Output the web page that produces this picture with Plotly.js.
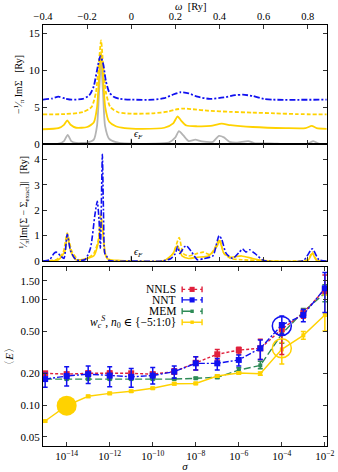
<!DOCTYPE html>
<html>
<head>
<meta charset="utf-8">
<script src="https://cdn.plot.ly/plotly-3.0.1.min.js"></script>
<style>
  html, body { margin: 0; padding: 0; background: #fff; }
  #g0 { width: 338px; height: 472px; }
</style>
</head>
<body>
<div id="g0"></div>
<script>
// panel 1: -1/pi Im Sigma (curves shifted by 0, 2, 4, 6)
const wExact = [-0.4, -0.33, -0.305, -0.288, -0.272, -0.25, -0.2, -0.17, -0.155, -0.146, -0.137, -0.128, -0.119, -0.1, -0.07, -0.03, 0.1, 0.17, 0.2, 0.216, 0.235, 0.26, 0.29, 0.32, 0.37, 0.397, 0.42, 0.445, 0.48, 0.53, 0.56, 0.63, 0.7, 0.8, 0.825, 0.85, 0.885];
const sExact = [0.02, 0.05, 0.4, 1.25, 0.4, 0.15, 0.2, 0.6, 2.5, 7, 11, 7, 2.5, 0.7, 0.25, 0.08, 0.05, 0.2, 0.9, 1.75, 1.2, 0.4, 0.6, 0.35, 0.3, 1.1, 0.9, 0.3, 0.2, 0.4, 0.1, 0.1, 0.02, 0.05, 0.4, 0.05, 0.0];

const wSolid = [-0.4, -0.33, -0.305, -0.29, -0.275, -0.25, -0.2, -0.17, -0.155, -0.146, -0.137, -0.128, -0.118, -0.1, -0.07, -0.03, 0.05, 0.15, 0.19, 0.21, 0.225, 0.25, 0.3, 0.36, 0.41, 0.45, 0.55, 0.7, 0.79, 0.818, 0.84, 0.885];
const sSolid = [2.0, 2.15, 2.6, 3.2, 2.6, 2.2, 2.3, 2.9, 5, 9, 12.5, 9, 5, 3.0, 2.4, 2.15, 2.05, 2.2, 2.8, 3.75, 3.2, 2.5, 2.4, 2.45, 2.75, 2.55, 2.3, 2.15, 2.15, 2.45, 2.15, 2.05];

const wDashed = [-0.4, -0.3, -0.22, -0.18, -0.16, -0.148, -0.137, -0.127, -0.115, -0.095, -0.06, 0.0, 0.1, 0.17, 0.2, 0.235, 0.28, 0.35, 0.45, 0.55, 0.65, 0.75, 0.885];
const sDashed = [4.0, 4.05, 4.3, 5, 7, 10.5, 14.0, 10.5, 7, 5, 4.3, 4.1, 4.15, 4.4, 4.65, 4.8, 4.7, 4.5, 4.35, 4.25, 4.15, 4.05, 4.0];

const wBlue = [-0.4, -0.36, -0.33, -0.3, -0.27, -0.22, -0.19, -0.17, -0.155, -0.14, -0.127, -0.115, -0.1, -0.08, -0.05, 0.0, 0.1, 0.15, 0.19, 0.224, 0.26, 0.3, 0.356, 0.42, 0.47, 0.506, 0.55, 0.6, 0.64, 0.885];
const sBlue = [6.0, 6.15, 6.4, 6.15, 6.0, 6.1, 6.6, 7.8, 10, 11.9, 10.8, 8.5, 7, 6.4, 6.1, 6.0, 6.0, 6.2, 6.7, 7.0, 6.85, 6.4, 6.1, 6.3, 6.6, 6.67, 6.5, 6.1, 6.0, 6.0];

// panel 2: 1/pi |Im[Sigma - Sigma_exact]|
const wErrBlue = [-0.4, -0.37, -0.35, -0.34, -0.32, -0.305, -0.29, -0.275, -0.25, -0.21, -0.185, -0.165, -0.154, -0.146, -0.14, -0.134, -0.131, -0.126, -0.12, -0.112, -0.1, 0.0, 0.14, 0.18, 0.2, 0.21, 0.22, 0.24, 0.25, 0.27, 0.3, 0.33, 0.37, 0.39, 0.398, 0.41, 0.43, 0.46, 0.49, 0.504, 0.52, 0.537, 0.56, 0.6, 0.78, 0.82, 0.85, 0.885];
const dErrBlue = [0, 0.05, 0.3, 0.35, 0.2, 0.1, 1.05, 0.4, 0.05, 0.05, 0.5, 1.8, 2.35, 1.6, 0.5, 3.0, 4.2, 2.0, 0.3, 0.2, 0.02, 0.0, 0.0, 0.1, 0.3, 0.57, 0.3, 0.55, 0.6, 0.4, 0.05, 0.1, 0.2, 0.8, 1.0, 0.85, 0.3, 0.1, 0.35, 0.47, 0.35, 0.44, 0.3, 0.02, 0.02, 0.48, 0.05, 0];

const wErrDashed = [-0.4, -0.34, -0.31, -0.29, -0.27, -0.24, -0.2, -0.17, -0.15, -0.138, -0.13, -0.12, -0.1, 0.15, 0.19, 0.217, 0.235, 0.26, 0.3, 0.326, 0.36, 0.4, 0.42, 0.45, 0.5, 0.8, 0.82, 0.84, 0.885];
const dErrDashed = [0, 0.05, 0.3, 1.1, 0.4, 0.05, 0.1, 0.3, 0.8, 1.9, 1.3, 0.3, 0.02, 0.0, 0.3, 0.92, 0.3, 0.2, 0.3, 0.35, 0.25, 0.85, 0.3, 0.1, 0.05, 0.05, 0.35, 0.05, 0];

const wErrSolid = [-0.4, -0.33, -0.3, -0.29, -0.275, -0.25, -0.17, -0.15, -0.135, -0.125, -0.11, -0.05, 0.15, 0.19, 0.2, 0.21, 0.23, 0.26, 0.3, 0.35, 0.39, 0.4, 0.42, 0.45, 0.5, 0.55, 0.6, 0.8, 0.82, 0.84, 0.885];
const dErrSolid = [0, 0.05, 0.4, 1.05, 0.4, 0.05, 0.2, 0.7, 1.6, 0.8, 0.1, 0.02, 0.02, 0.3, 0.5, 0.6, 0.2, 0.1, 0.15, 0.2, 0.6, 0.8, 0.3, 0.15, 0.2, 0.1, 0.02, 0.02, 0.3, 0.02, 0];

// panel 3: <E> vs sigma
const sigma = [1e-15, 1e-14, 1e-13, 1e-12, 1e-11, 1e-10, 1e-9, 1e-8, 1e-7, 1e-6, 1e-5, 1e-4, 1e-3, 1e-2];

const nnls = [0.1995, 0.196, 0.1995, 0.1995, 0.1995, 0.196, 0.207, 0.251, 0.302, 0.331, 0.344, 0.52, 0.74, 1.24];
const nnlsHi = [0.205, 0.2, 0.21, 0.21, 0.205, 0.2, 0.22, 0.286, 0.336, 0.351, 0.418, 0.6, 0.8, 1.7];
const nnlsLo = [0.195, 0.19, 0.19, 0.19, 0.19, 0.19, 0.196, 0.214, 0.267, 0.304, 0.27, 0.3, 0.66, 1.14];

const nnt = [0.176, 0.188, 0.196, 0.19, 0.185, 0.19, 0.207, 0.248, 0.248, 0.267, 0.344, 0.571, 0.71, 1.27];
const nntHi = [0.1995, 0.23, 0.234, 0.23, 0.222, 0.227, 0.234, 0.286, 0.276, 0.297, 0.412, 0.695, 0.8, 1.79];
const nntLo = [0.147, 0.151, 0.16, 0.149, 0.147, 0.158, 0.179, 0.214, 0.214, 0.234, 0.27, 0.47, 0.614, 0.75];

const mem = [0.176, 0.176, 0.176, 0.176, 0.176, 0.176, 0.176, 0.179, 0.183, 0.214, 0.237, 0.47, 0.764, 1.14];
const memHi = [0.179, 0.179, 0.179, 0.179, 0.179, 0.179, 0.179, 0.183, 0.19, 0.225, 0.26, 0.59, 0.82, 1.37];
const memLo = [0.173, 0.173, 0.173, 0.173, 0.173, 0.173, 0.173, 0.176, 0.178, 0.204, 0.22, 0.383, 0.71, 0.95];

const wcS = [0.0706, 0.0986, 0.121, 0.129, 0.135, 0.144, 0.159, 0.16, 0.188, 0.201, 0.198, 0.336, 0.456, 0.71];
const wcSHi = [0.072, 0.1, 0.124, 0.132, 0.138, 0.147, 0.163, 0.164, 0.193, 0.207, 0.205, 0.39, 0.497, 1.1];
const wcSLo = [0.069, 0.097, 0.118, 0.126, 0.132, 0.141, 0.155, 0.156, 0.183, 0.195, 0.191, 0.244, 0.418, 0.5];

// highlighted points (big circles)
const hiFilledX = [1e-14];
const hiFilledY = [0.0986];
const hiOpenX = [1e-4, 1e-4];
const hiOpenY = [0.56, 0.345];

const legendNames = ['NNLS', 'NNT', 'MEM', '<i>w</i><sub><i>c</i></sub><sup><i>S</i></sup>, <i>n</i><sub>0</sub> ∈ {−5:1:0}'];

const BLUE = '#1010f0';
const GOLD = '#ffd200';
const GRAY = '#b4b4b4';
const RED = '#e0203c';
const GREEN = '#2e8b57';
const FONT = 'Liberation Serif, DejaVu Serif, serif';

function curve(x, y, color, dash, xa, ya, w) {
  return { x, y, xaxis: xa, yaxis: ya, type: 'scatter', mode: 'lines',
    line: { color, dash, width: w || 1.8, shape: 'spline', smoothing: 0.6 }, hoverinfo: 'skip' };
}

function errSeries(y, hi, lo, color, dash, sym, size) {
  return {
    x: sigma, y, xaxis: 'x', yaxis: 'y3', type: 'scatter', mode: 'lines+markers',
    line: { color, dash, width: 1.4 },
    marker: { color, symbol: sym, size },
    error_y: { type: 'data', symmetric: false,
      array: hi.map((v, i) => v - y[i]), arrayminus: lo.map((v, i) => y[i] - v),
      color, thickness: 1.5, width: 2.5 },
  };
}

const data = [
  curve(wExact, sExact, GRAY, 'solid', 'x2', 'y'),
  curve(wSolid, sSolid, GOLD, 'solid', 'x2', 'y'),
  curve(wDashed, sDashed, GOLD, '4px,2px', 'x2', 'y'),
  curve(wBlue, sBlue, BLUE, '6px,2px,2px,2px', 'x2', 'y'),
  curve(wErrSolid, dErrSolid, GOLD, 'solid', 'x3', 'y2', 1.6),
  curve(wErrDashed, dErrDashed, GOLD, '4px,2px', 'x3', 'y2', 1.6),
  curve(wErrBlue, dErrBlue, BLUE, '6px,2px,2px,2px', 'x3', 'y2', 1.6),
  errSeries(mem, memHi, memLo, GREEN, '7px,3px', 'square', 4),
  errSeries(wcS, wcSHi, wcSLo, GOLD, 'solid', 'square', 4),
  errSeries(nnls, nnlsHi, nnlsLo, RED, '3px,2px', 'square', 6),
  errSeries(nnt, nntHi, nntLo, BLUE, '6px,2px,2px,2px', 'square', 6),
  { x: hiFilledX, y: hiFilledY, xaxis: 'x', yaxis: 'y3', type: 'scatter', mode: 'markers',
    marker: { color: GOLD, size: 20 } },
  { x: hiOpenX, y: hiOpenY, xaxis: 'x', yaxis: 'y3', type: 'scatter', mode: 'markers',
    marker: { color: 'rgba(0,0,0,0)', size: 19, line: { color: [BLUE, GOLD], width: 1.5 } } },
];

const axisBase = {
  showline: true, linecolor: '#000', linewidth: 1, mirror: 'ticks', ticks: 'inside',
  ticklen: 4, tickcolor: '#333', showgrid: false, zeroline: false,
  tickfont: { family: FONT, size: 11, color: '#000' },
};

// legend drawn with annotations + small shapes (symbol to the right of the text)
const legColors = [RED, BLUE, GREEN, GOLD];
const legDash = ['dot', 'dashdot', 'dash', 'solid'];
const legY = [0.372, 0.347, 0.320, 0.294];
const annotations = [
  { xref: 'paper', yref: 'paper', x: 0.52, y: 1.0594, yshift: 1, text: '<i>ω</i>  [Ry]', showarrow: false,
    xanchor: 'center', yanchor: 'top', font: { family: FONT, size: 10.5, color: '#000' } },
  { xref: 'x2', yref: 'y', x: 0.005, y: 0.1, text: '<i>ϵ</i><sub><i>F</i></sub>', showarrow: false,
    xanchor: 'left', yanchor: 'bottom', font: { family: FONT, size: 10, color: '#000' } },
  { xref: 'x3', yref: 'y2', x: 0.005, y: 0.0, text: '<i>ϵ</i><sub><i>F</i></sub>', showarrow: false,
    xanchor: 'left', yanchor: 'bottom', font: { family: FONT, size: 10, color: '#000' } },
];
const shapes = [
  { type: 'line', xref: 'x2', yref: 'y', x0: 0, x1: 0, y0: 0, y1: 0.7, line: { color: '#000', width: 1 } },
  { type: 'line', xref: 'x3', yref: 'y2', x0: 0, x1: 0, y0: 0, y1: 0.2, line: { color: '#000', width: 1 } },
];
legendNames.forEach((name, i) => {
  annotations.push({ xref: 'paper', yref: 'paper', x: 0.475, y: legY[i], text: name, showarrow: false,
    xanchor: 'right', yanchor: 'middle', font: { family: FONT, size: 11.5, color: '#000' } });
  shapes.push({ type: 'line', xref: 'paper', yref: 'paper', x0: 0.49, x1: 0.56, y0: legY[i], y1: legY[i],
    line: { color: legColors[i], width: 1.4, dash: legDash[i] } });
  [0.49, 0.56].forEach(xc => shapes.push({ type: 'line', xref: 'paper', yref: 'paper', x0: xc, x1: xc,
    y0: legY[i] - 0.007, y1: legY[i] + 0.007, line: { color: legColors[i], width: 1.4 } }));
  const hs = i < 2 ? 0.009 : 0.006;
  shapes.push({ type: 'rect', xref: 'paper', yref: 'paper', x0: 0.525 - hs, x1: 0.525 + hs,
    y0: legY[i] - hs * 0.68, y1: legY[i] + hs * 0.68, fillcolor: legColors[i], line: { width: 0 } });
});

const sigTicks = [1e-14, 1e-12, 1e-10, 1e-8, 1e-6, 1e-4, 1e-2];
const sigText = ['10<sup>−14</sup>', '10<sup>−12</sup>', '10<sup>−10</sup>', '10<sup>−8</sup>', '10<sup>−6</sup>', '10<sup>−4</sup>', '10<sup>−2</sup>'];

const layout = {
  width: 338, height: 472,
  margin: { l: 43, r: 11, t: 25, b: 26 },
  paper_bgcolor: '#fff', plot_bgcolor: '#fff',
  showlegend: false,
  font: { family: FONT, size: 11, color: '#000' },
  xaxis: Object.assign({}, axisBase, {
    type: 'log', anchor: 'y3', range: [-15.1, -1.9],
    tickvals: sigTicks, ticktext: sigText,
    title: { text: '<i>σ</i>', standoff: 2, font: { family: FONT, size: 11 } },
  }),
  xaxis2: Object.assign({}, axisBase, {
    anchor: 'y', side: 'top', range: [-0.4, 0.887],
    tickvals: [-0.4, -0.2, 0, 0.2, 0.4, 0.6, 0.8],
    ticktext: ['−0.4', '−0.2', '0', '0.2', '0.4', '0.6', '0.8'],
    ticklabelstandoff: 0,
    tickfont: { family: FONT, size: 10.5, color: '#000' },
  }),
  xaxis3: Object.assign({}, axisBase, {
    anchor: 'y2', matches: 'x2', showticklabels: false,
    tickvals: [-0.4, -0.2, 0, 0.2, 0.4, 0.6, 0.8],
  }),
  yaxis: Object.assign({}, axisBase, {
    anchor: 'x2', domain: [0.7173, 1], range: [0, 16.1],
    tickvals: [0, 5, 10, 15],
    title: { text: '−<sup>1</sup>⁄<sub>π</sub> ImΣ   [Ry]', standoff: 4, font: { family: FONT, size: 10 } },
  }),
  yaxis2: Object.assign({}, axisBase, {
    anchor: 'x3', domain: [0.4394, 0.7173], range: [0, 4.6],
    tickvals: [0, 1, 2, 3, 4],
    title: { text: '<sup>1</sup>⁄<sub>π</sub>|Im[Σ − Σ<sub>exact</sub>]|   [Ry]', standoff: 4, font: { family: FONT, size: 10 } },
  }),
  yaxis3: Object.assign({}, axisBase, {
    anchor: 'x', domain: [0, 0.4252], type: 'log', range: [Math.log10(0.041), Math.log10(2.02)],
    tickvals: [0.05, 0.1, 0.2, 0.5, 1, 1.5],
    ticktext: ['0.05', '0.10', '0.20', '0.50', '1.00', '1.50'],
    title: { text: '〈<i>E</i>〉', standoff: 4, font: { family: FONT, size: 11 } },
  }),
  annotations,
  shapes,
};

Plotly.newPlot('g0', data, layout, { displayModeBar: false, staticPlot: true });
</script>
</body>
</html>
